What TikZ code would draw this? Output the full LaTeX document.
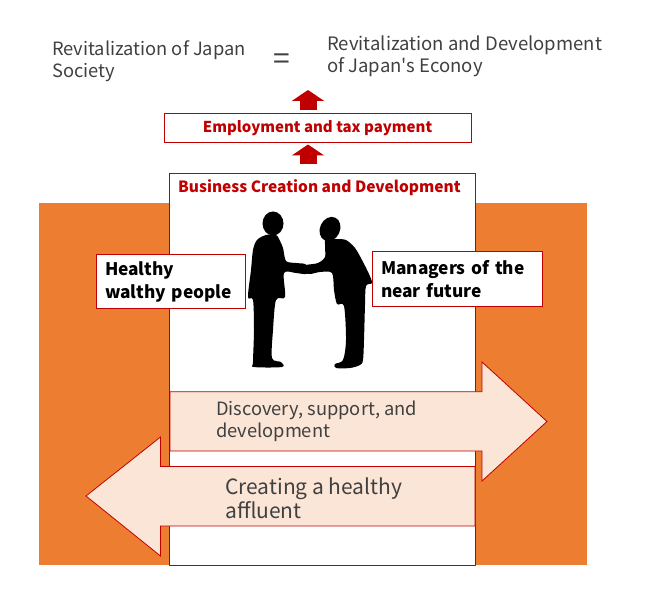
\documentclass[tikz,border=0pt]{standalone}
\usepackage{fontspec}
\setmainfont{Noto Sans CJK JP}
\usepackage{tikz}
\usetikzlibrary{
    arrows.meta,
    positioning
}
\definecolor{bizorange}{HTML}{ED7D31}
\definecolor{bizred}{HTML}{C00000}
\definecolor{bizpeach}{HTML}{FBE5D6}
\definecolor{bizgray}{HTML}{404040}

\begin{document}
\begin{tikzpicture}[x=1pt, y=-1pt,
    redbox/.style={draw=bizred, fill=white, line width=1pt, inner sep=0pt},
    talkbox/.style={redbox, align=left, inner xsep=9pt, font=\bfseries\fontsize{17.3}{23}\selectfont},
    uparrow/.style={bizred, line width=17pt, -{Triangle[width=32pt,length=11pt]}},
    bigarrow/.style={draw=bizred, fill=bizpeach, line width=0.8pt, line join=miter},
    plain/.style={text=bizgray, align=left, inner sep=0pt},
    person/.style={fill=black, draw=none}]
\useasboundingbox (0,0) rectangle (646,604);
% goal
\node[plain, anchor=west, font=\fontsize{18.3}{22}\selectfont] (society) at (52,61) {Revitalization of Japan\\Society};
\node[plain, font=\fontsize{30}{30}\selectfont] (equals) at (282,62) {=};
\node[plain, anchor=west, font=\fontsize{18.5}{22}\selectfont] (economy) at (327,56) {Revitalization and Development\\of Japan\textquotesingle s Econoy};
\coordinate (axis) at (308,90);
% background and centre box
\fill[bizorange] (38.5,203) rectangle (586.5,565);
\node[redbox, minimum width=306pt, minimum height=391pt] (bcd) at (322,369.5) {};
\node[text=bizred, font=\bfseries\fontsize{15.5}{17}\selectfont] (bcdtitle) at (319.5,188) {Business Creation and Development};
\node[redbox, minimum width=307pt, minimum height=29pt, text=bizred, font=\bfseries\fontsize{15}{17}\selectfont] (emp) at (317.5,128.5) {Employment and tax payment};
\draw[uparrow] ([yshift=9pt]bcd.north -| axis) -- ([yshift=-1pt]emp.south -| axis);
\draw[uparrow] ([yshift=3pt]emp.north -| axis) -- (axis);
% people
\node[talkbox, text width=131pt, minimum height=54pt] (wealthy) at (170.5,282) {Healthy\\walthy people};
\node[talkbox, text width=152pt, minimum height=55pt] (managers) at (457,279.5) {Managers of the\\near future};
\fill[person] (273,223.5) ellipse (10.5 and 12);
\fill[person] plot[smooth cycle, tension=0.5] coordinates {
    (266,235) (257,240) (253,250) (251,270) (248,297) (253,300) (254,330) (253,362)
    (254,367) (282,367) (281,362) (272,358) (273,330) (276,300) (285,297) (284,273)
    (296,273) (306,274) (310,269) (305,264) (296,263) (286,261) (283,248) (279,239) (276,235)};
\fill[person, rotate around={-25:(330,229)}] (330,229) ellipse (10 and 12.5);
\fill[person] plot[smooth cycle, tension=0.5] coordinates {
    (326,238) (336,239) (346,240) (355,248) (362,260) (369,274) (372,283) (366,286)
    (365,305) (364,340) (363,360) (360,365) (350,368) (336,368) (335,364) (343,360)
    (346,340) (344,306) (337,304) (334,290) (332,273) (320,272) (310,274) (301,272)
    (300,268) (306,265) (318,263) (325,257) (325,247)};
% flows
\draw[bigarrow] (170,391.7) -- (482,391.7) -- (482,362) -- (547,421.5) -- (482,481) -- (482,451) -- (170,451) -- cycle;
\node[plain, anchor=west, font=\fontsize{18.3}{22}\selectfont] (discover) at (216,421) {Discovery, support, and\\development};
\draw[bigarrow] (475,466.5) -- (160.5,466.5) -- (160.5,437) -- (86,496) -- (160.5,556) -- (160.5,526) -- (475,526) -- cycle;
\node[plain, anchor=west, font=\fontsize{21}{24}\selectfont] (affluent) at (225,498) {Creating a healthy\\affluent};
\end{tikzpicture}
\end{document}
